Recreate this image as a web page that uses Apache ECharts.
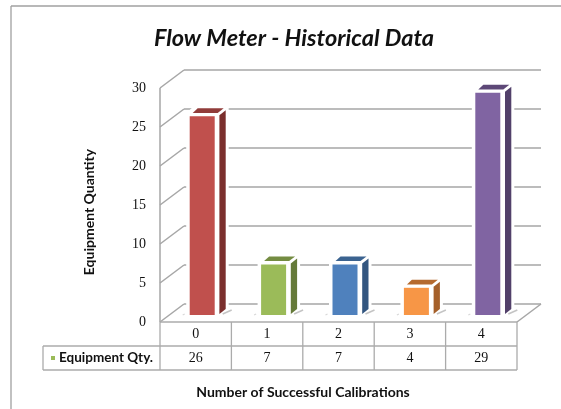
<!DOCTYPE html>
<html><head><meta charset="utf-8">
<style>html,body{margin:0;padding:0;background:#fff}#c{width:561px;height:409px}</style>
<script src="https://cdn.jsdelivr.net/npm/echarts@6/dist/echarts.min.js"></script>
</head><body><div id="c"></div>
<script>
const categories = ['0','1','2','3','4'];
const quantities = [26,7,7,4,29];
const yTicks = [0,5,10,15,20,25,30];
const seriesName = 'Equipment Qty.';
const faceColors = ['#c0504d','#9bbb59','#4f81bd','#f79646','#8064a2'];
const sideColors = ['#7b2f2d','#657a39','#335680','#a5602a','#52406a'];
const topColors = ['#913c3a','#748c42','#3b6390','#b56a2e','#5d4877'];

const gridLine = '#a6a6a6', wallDX = 24, wallDY = -18;
const numFont = '"Liberation Serif"', txtFont = 'Lato';

const chart = echarts.init(document.getElementById('c'), null, {renderer:'canvas'});

function plotEdges(api){
  const step = api.size([1,0])[0];
  const L = api.coord([0,0])[0]-step/2;
  return {L, step, R:L+step*categories.length};
}
function wall(params, api){
  const kids = [];
  const {L,R} = plotEdges(api);
  const ln = (x1,y1,x2,y2)=>({type:'line',shape:{x1,y1,x2,y2},style:{stroke:gridLine,lineWidth:1.5}});
  yTicks.forEach(t=>{
    const y = api.coord([0,t])[1];
    kids.push(ln(L,y,L+wallDX,y+wallDY));
    kids.push(ln(L+wallDX,y+wallDY,R+wallDX,y+wallDY));
  });
  const y0 = api.coord([0,0])[1], yT = api.coord([0,30])[1];
  kids.push(ln(L,yT,L,y0));
  kids.push(ln(R,y0,R+wallDX,y0+wallDY));
  return {type:'group',children:kids};
}
function bar(params, api){
  const i = api.value(0), v = api.value(1);
  const c = api.coord([i,0]), t = api.coord([i,v]);
  const bx = c[0]-6, bw = 25;
  const base = c[1]-7, top = t[1]-3;
  const r = bx+bw;
  const poly = (pts,fill)=>({type:'polygon',shape:{points:pts},style:{fill}});
  return {type:'group',children:[
    {type:'polygon',shape:{points:[[bx-3.5,base+1],[bx-3.5,top-3],[bx+5,top-11],[r+14,top-11],[r+14,base-6],[r+6,base+1]]},style:{fill:'#fff'}},
    {type:'line',shape:{x1:r+8,y1:base-1,x2:r+17,y2:base-5},style:{stroke:'#c4c4c4',lineWidth:1.5}},
    {type:'line',shape:{x1:bx-7,y1:base,x2:bx-5,y2:base-1},style:{stroke:'#d8d8d8',lineWidth:1.2}},
    poly([[bx,base],[bx,top],[r,top],[r,base]],faceColors[i]),
    poly([[r+4.7,top-1],[r+11,top-6],[r+11,base-6],[r+4.7,base-1]],sideColors[i]),
    poly([[bx+3,top-3.3],[bx+8,top-8],[r+9,top-8],[r+3,top-3.3]],topColors[i])
  ]};
}
function table(params, api){
  const kids = [];
  const {L,R,step} = plotEdges(api), y0 = api.coord([0,0])[1];
  const rowH = 24, legendL = 43;
  const ln = (x1,y1,x2,y2)=>({type:'line',shape:{x1,y1,x2,y2},style:{stroke:'#ababab',lineWidth:1.3}});
  kids.push(ln(L,y0,R,y0));
  kids.push(ln(legendL,y0+rowH,R,y0+rowH));
  kids.push(ln(legendL,y0+2*rowH,R,y0+2*rowH));
  kids.push(ln(legendL,y0+rowH,legendL,y0+2*rowH));
  for(let k=0;k<=categories.length;k++){
    const x = L+k*step;
    kids.push(ln(x,y0,x,y0+2*rowH));
  }
  kids.push({type:'rect',shape:{x:51,y:y0+rowH+10,width:4,height:4},style:{fill:faceColors[1]}});
  kids.push({type:'text',style:{x:59,y:y0+rowH+12,text:seriesName,fill:'#111',font:'bold 13.5px '+txtFont,verticalAlign:'middle',align:'left'}});
  quantities.forEach((q,k)=>{
    kids.push({type:'text',style:{x:L+(k+0.5)*step,y:y0+rowH+12,text:String(q),fill:'#111',font:'14px '+numFont,align:'center',verticalAlign:'middle'}});
  });
  return {type:'group',children:kids};
}

chart.setOption({
  animation:false,
  backgroundColor:'#fff',
  title:{text:'Flow Meter - Historical Data',left:294,top:22,textAlign:'center',
    textStyle:{fontFamily:txtFont,fontStyle:'italic',fontWeight:'bold',fontSize:23.5,color:'#111'}},
  grid:{left:160,top:88,width:357,height:234},
  xAxis:{type:'category',data:categories,axisLine:{show:false},axisTick:{show:false},
    axisLabel:{margin:5,fontFamily:numFont,fontSize:14,color:'#111'},splitLine:{show:false}},
  yAxis:{type:'value',min:0,max:30,interval:5,axisLine:{show:false},axisTick:{show:false},splitLine:{show:false},
    axisLabel:{margin:14,fontFamily:numFont,fontSize:14,color:'#111'}},
  graphic:[
    {type:'line',silent:true,shape:{x1:11,y1:6,x2:561,y2:6},style:{stroke:'#a0a0a0',lineWidth:1.3}},
    {type:'line',silent:true,shape:{x1:11,y1:6,x2:11,y2:409},style:{stroke:'#a0a0a0',lineWidth:1.3}},
    {type:'text',silent:true,x:89,y:212,rotation:Math.PI/2,
      style:{text:'Equipment Quantity',fill:'#111',font:'bold 14px '+txtFont,align:'center',verticalAlign:'middle'}},
    {type:'text',silent:true,x:303,y:392,
      style:{text:'Number of Successful Calibrations',fill:'#111',font:'bold 14px '+txtFont,align:'center',verticalAlign:'middle'}}
  ],
  series:[
    {type:'custom',name:'wall',data:[[0,0]],renderItem:wall,silent:true,z:1,clip:false},
    {type:'custom',name:seriesName,data:quantities.map((q,i)=>[i,q]),encode:{x:0,y:1},renderItem:bar,z:2,clip:false},
    {type:'custom',name:'table',data:[[0,0]],renderItem:table,silent:true,z:3,clip:false}
  ]
}, true);
chart.setOption({title:{left:289}});
</script></body></html>
